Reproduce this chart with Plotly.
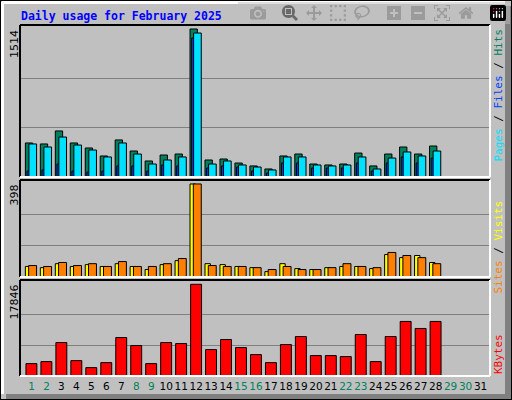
import plotly.graph_objects as go

days = list(range(1, 32))
data_days = list(range(1, 29))
hits = [348, 338, 471, 348, 297, 215, 379, 266, 164, 225, 235, 1514, 174, 184,
        143, 113, 82, 215, 235, 133, 123, 133, 245, 113, 235, 307, 235, 317]
pages = [338, 307, 409, 327, 276, 205, 348, 235, 133, 174, 205, 1473, 133, 164,
         123, 102, 72, 205, 205, 123, 113, 123, 205, 82, 194, 256, 215, 266]
files = [61, 72, 133, 61, 51, 61, 113, 113, 61, 123, 113, 1422, 92, 113,
         102, 61, 40, 143, 143, 92, 92, 92, 143, 61, 143, 205, 143, 194]
visits = [45, 40, 57, 45, 53, 45, 57, 45, 32, 53, 70, 398, 57, 53,
          45, 40, 23, 57, 36, 32, 40, 45, 45, 36, 96, 83, 92, 62]
sites = [49, 45, 62, 49, 57, 45, 66, 45, 45, 57, 79, 398, 49, 45,
         45, 40, 32, 45, 32, 32, 40, 57, 45, 40, 105, 92, 83, 57]
kbytes = [2410, 2800, 6513, 2996, 1628, 2605, 7490, 5927, 2410, 6513, 6318, 17846, 5145, 7099,
          5536, 4168, 2605, 6122, 7685, 3973, 3973, 3778, 8076, 2800, 7685, 10616, 9248, 10616]
weekend = [1, 2, 8, 9, 15, 16, 22, 23, 29, 30]

W, H = 512, 400
def py(p):
    return 1 - p / H
def px(p):
    return p / W

fig = go.Figure()
line = dict(color="black", width=1)
def bar(y, color, off, wid, ax, name):
    fig.add_trace(go.Bar(x=data_days, y=y, offset=off, width=wid, name=name,
                         marker=dict(color=color, line=line),
                         xaxis=ax[0], yaxis=ax[1]))

bar(hits, "#00805C", -0.41, 0.49, ("x", "y"), "Hits")
bar(files, "#0040FF", -0.30, 0.20, ("x", "y"), "Files")
bar(pages, "#00E0FF", -0.17, 0.51, ("x", "y"), "Pages")
bar(visits, "#FFFF00", -0.41, 0.36, ("x2", "y2"), "Visits")
bar(sites, "#FF8000", -0.19, 0.53, ("x2", "y2"), "Sites")
bar(kbytes, "#FF0000", -0.37, 0.73, ("x3", "y3"), "KBytes")

xr = [0.232, 31.63]
ticktext = ["<span style='color:%s'>%d</span>" % ("#00805C" if d in weekend else "black", d)
            for d in days]
xcommon = dict(range=xr, showgrid=False, zeroline=False, domain=[px(20), px(490)])
fig.update_layout(
    width=W, height=H, margin=dict(l=0, r=0, t=0, b=0),
    paper_bgcolor="#C0C0C0", plot_bgcolor="#C0C0C0",
    barmode="overlay", showlegend=False,
    font=dict(family="DejaVu Sans", size=11, color="black"),
    xaxis=dict(**xcommon, showticklabels=False, anchor="y"),
    xaxis2=dict(**xcommon, showticklabels=False, anchor="y2"),
    xaxis3=dict(**xcommon, anchor="y3", tickvals=days, ticktext=ticktext,
                ticks="", tickangle=0, ticklabelstandoff=2,
                tickfont=dict(family="DejaVu Sans", size=10.5)),
    yaxis=dict(domain=[py(177), py(25)], range=[0, 1555],
               tickvals=[1514 / 3, 2 * 1514 / 3], showticklabels=False,
               gridcolor="#808080", zeroline=False),
    yaxis2=dict(domain=[py(277), py(180)], range=[0, 415],
                tickvals=[398 / 3, 2 * 398 / 3], showticklabels=False,
                gridcolor="#808080", zeroline=False),
    yaxis3=dict(domain=[py(376), py(280)], range=[0, 18683],
                tickvals=[17846 / 3, 2 * 17846 / 3], showticklabels=False,
                gridcolor="#808080", zeroline=False),
)

shapes = []
# outer frame
shapes.append(dict(type="rect", xref="paper", yref="paper", x0=px(505), x1=px(511),
                   y0=py(399), y1=py(6), fillcolor="#808080", line=dict(width=0)))
shapes.append(dict(type="rect", xref="paper", yref="paper", x0=px(6), x1=px(511),
                   y0=py(399), y1=py(394), fillcolor="#808080", line=dict(width=0)))
shapes.append(dict(type="line", xref="paper", yref="paper", x0=px(2), x1=px(505),
                   y0=py(2.5), y1=py(2.5), line=dict(color="white", width=3)))
shapes.append(dict(type="line", xref="paper", yref="paper", x0=px(2.5), x1=px(2.5),
                   y0=py(2), y1=py(394), line=dict(color="white", width=3)))
shapes.append(dict(type="rect", xref="paper", yref="paper", x0=0, x1=1, y0=0, y1=1,
                   line=dict(color="black", width=2)))
# panel borders
for top, bot in [(25, 177), (180, 277), (280, 376)]:
    for x0, y0, x1, y1, c in [(20, top, 490, top, "black"), (20, top, 20, bot, "black"),
                              (20, bot, 490, bot, "white"), (490, top, 490, bot, "white")]:
        shapes.append(dict(type="line", xref="paper", yref="paper",
                           x0=px(x0), x1=px(x1), y0=py(y0), y1=py(y1),
                           line=dict(color=c, width=2)))
fig.update_layout(shapes=shapes)

mono = "DejaVu Sans Mono"
ann = [dict(text="<b>Daily usage for February 2025</b>", x=px(19), y=py(16),
            xanchor="left", yanchor="middle", font=dict(family=mono, size=11.5, color="#0000FF"))]
for label, top in [("1514", 28), ("398", 183), ("17846", 283)]:
    ann.append(dict(text=label, x=px(14), y=py(top), xanchor="center", yanchor="top",
                    textangle=-90, font=dict(family="DejaVu Sans", size=11)))
ann.append(dict(text="<span style='color:#00E0FF'>Pages</span> / <span style='color:#0040FF'>Files</span>"
                     " / <span style='color:#00805C'>Hits</span>",
                x=px(498), y=py(27), xanchor="center", yanchor="top", textangle=-90,
                font=dict(family=mono, size=11)))
ann.append(dict(text="<span style='color:#FF8000'>Sites</span> / <span style='color:#FFFF00'>Visits</span>",
                x=px(498), y=py(199), xanchor="center", yanchor="top", textangle=-90,
                font=dict(family=mono, size=11)))
ann.append(dict(text="<span style='color:#FF0000'>KBytes</span>",
                x=px(498), y=py(376), xanchor="center", yanchor="bottom", textangle=-90,
                font=dict(family=mono, size=11)))
for a in ann:
    a.update(xref="paper", yref="paper", showarrow=False)
fig.update_layout(annotations=ann)

fig.write_html("out.html", post_script="document.body.style.margin='0';document.body.style.overflow='hidden';")
